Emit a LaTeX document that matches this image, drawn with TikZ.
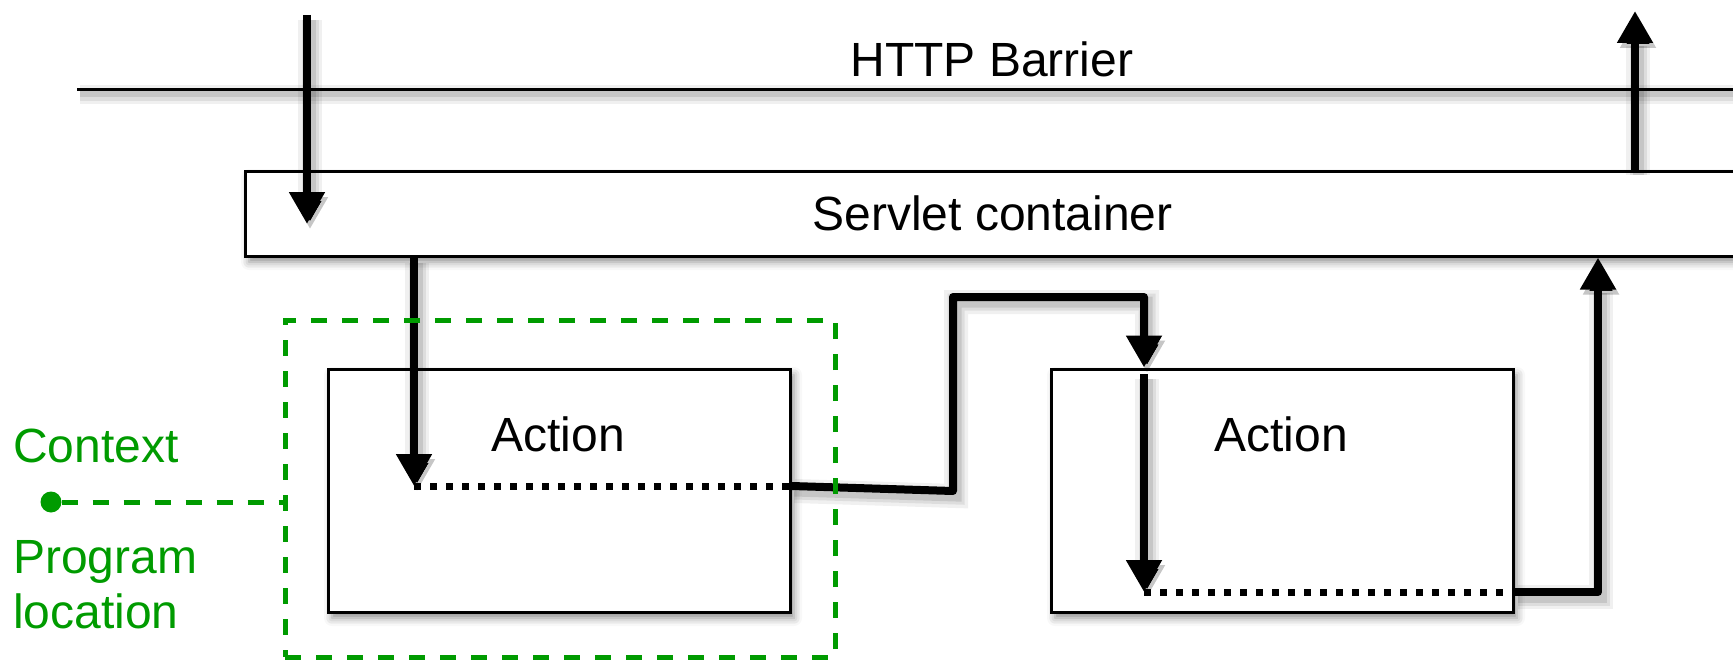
\documentclass[tikz,border=0pt]{standalone}
\usepackage{fontspec}
\setmainfont{Liberation Sans}
\usetikzlibrary{arrows.meta,shadows.blur}
\definecolor{ctxgreen}{RGB}{0,155,0}
\begin{document}
\begin{tikzpicture}[x=1pt,y=-1pt,
  txt/.style={font=\fontsize{48}{55}\selectfont, inner sep=0pt},
  box/.style={draw=black, line width=3pt, fill=white, inner sep=0pt,
    blur shadow={shadow xshift=4pt,shadow yshift=-6pt,shadow blur radius=8pt,shadow opacity=45}},
  lshadow/.style={
    preaction={draw=black, draw opacity=0.06, line width=#1+16pt, transform canvas={shift={(3pt,-5pt)}}},
    preaction={draw=black, draw opacity=0.08, line width=#1+9pt, transform canvas={shift={(3pt,-5pt)}}},
    preaction={draw=black, draw opacity=0.10, line width=#1+3pt, transform canvas={shift={(3pt,-5pt)}}}},
  flow/.style={lshadow=8pt, line width=8pt, line join=round, -{Triangle[width=34pt,length=32pt]}},
  dots/.style={line width=7pt, dash pattern=on 7pt off 9pt},
  ctx/.style={draw=ctxgreen, line width=5pt, dash pattern=on 16pt off 15pt},
]
\useasboundingbox (0,0) rectangle (1733,661);
\clip (0,0) rectangle (1733,661);

% HTTP barrier
\coordinate (bL) at (77,89.5);
\coordinate (bR) at (1745,89.5);
\draw[lshadow=3pt, line width=3pt] (bL) -- (bR);
\node[txt, anchor=base] (barrierlbl) at (992,77) {HTTP Barrier};

% servlet container
\node[box, minimum width=1495pt, minimum height=85pt, font=\fontsize{48}{55}\selectfont] (servlet) at (992.5,213.5) {Servlet container};

% action boxes
\node[box, minimum width=462pt, minimum height=243pt] (act1) at (559,490.5) {};
\node[box, minimum width=462pt, minimum height=243pt] (act2) at (1282,490.5) {};
\node[txt, anchor=base] (lbl1) at (558,451) {Action};
\node[txt, anchor=base] (lbl2) at (1281,451) {Action};

% incoming request
\coordinate (inTop) at (307,15);
\coordinate (inEnd) at (307,224);
\draw[flow] (inTop) -- (inEnd);

% outgoing response
\coordinate (outTop) at (1635,11);
\draw[flow] (servlet.north -| outTop) -- (outTop);

% into first action
\coordinate (p1) at (414,486);
\draw[flow] (servlet.south -| p1) -- (p1);
\draw[dots] (p1) -- (act1.east |- p1);
\coordinate (q1) at (953,491);
\coordinate (q2) at (953,297);
\coordinate (q3) at (1144,297);
\draw[flow] (act1.east |- p1) -- (q1) -- (q2) -- (q3) -- (act2.north -| q3);

% inside second action
\coordinate (p2) at (1144,374);
\coordinate (p3) at (1144,592);
\draw[flow] (p2) -- (p3);
\draw[dots] (p3) -- (act2.east |- p3);
\coordinate (r1) at (1598,592);
\draw[flow] (act2.east |- p3) -- (r1) -- (servlet.south -| r1);

% context box
\node[ctx, minimum width=550pt, minimum height=337pt, inner sep=0pt] (ctxbox) at (560,488.5) {};
\node[circle, fill=ctxgreen, minimum size=21pt, inner sep=0pt] (dot) at (51,502) {};
\draw[ctx] (dot) -- (ctxbox.west |- dot);
\node[txt, text=ctxgreen, anchor=base west] (ctxlbl) at (13,462) {Context};
\node[txt, text=ctxgreen, anchor=base west] (proglbl) at (13,573) {Program};
\node[txt, text=ctxgreen, anchor=base west] (loclbl) at (13,628) {location};
\end{tikzpicture}
\end{document}
